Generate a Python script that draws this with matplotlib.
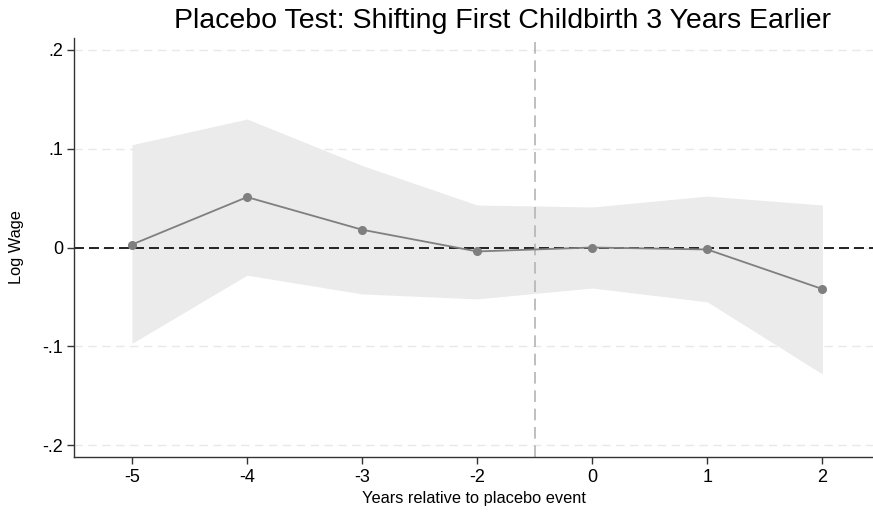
import numpy as np
import matplotlib
matplotlib.use('Agg')
import matplotlib.pyplot as plt

# Event-time categories and estimates
years = ['-5', '-4', '-3', '-2', '0', '1', '2']
coef = [0.003, 0.051, 0.018, -0.004, 0.000, -0.002, -0.042]
ci_upper = [0.104, 0.130, 0.083, 0.043, 0.041, 0.052, 0.043]
ci_lower = [-0.097, -0.028, -0.047, -0.052, -0.041, -0.055, -0.128]
yticks = [-0.2, -0.1, 0.0, 0.1, 0.2]
ytick_labels = ['-.2', '-.1', '0', '.1', '.2']

plt.rcParams['font.family'] = ['Liberation Sans', 'DejaVu Sans']

fig = plt.figure(figsize=(8.73, 5.14), dpi=100)
ax = fig.add_axes([74 / 873, 1 - 457 / 514, (873 - 74) / 873, (457 - 38) / 514])

x = np.arange(len(years))

# grid lines
for yt in yticks:
    ax.axhline(yt, color='#e8e8e8', lw=1, ls=(0, (6, 4)), zorder=0)

ax.fill_between(x, ci_lower, ci_upper, color='#ebebeb', lw=0, zorder=1)
ax.axhline(0, color='black', lw=1.2, ls=(0, (6, 3)), zorder=2)
ax.axvline(3.5, color='#b4b4b4', lw=1.2, ls=(0, (7, 4)), zorder=2)
ax.plot(x, coef, color='#7f7f7f', lw=1.3, marker='o', ms=5.5, zorder=3)

ax.set_xlim(-0.504, 6.44)
ax.set_ylim(-0.212, 0.212)
ax.set_xticks(x)
ax.set_xticklabels(years, fontsize=13)
ax.set_yticks(yticks)
ax.set_yticklabels(ytick_labels, fontsize=13)
ax.tick_params(direction='out', length=5, width=1, color='#333333')
ax.tick_params(axis='x', pad=3.5)
ax.tick_params(axis='y', pad=3)

for side in ['top', 'right']:
    ax.spines[side].set_visible(False)
for side in ['left', 'bottom']:
    ax.spines[side].set_color('#333333')
    ax.spines[side].set_linewidth(1)

ax.set_xlabel('Years relative to placebo event', fontsize=11.8, labelpad=3.5)
ax.set_ylabel('Log Wage', fontsize=11.8, labelpad=13)

# title sits a bit right of the axes centre in the reference
fig.text(503 / 873, 1 - 21.5 / 514, 'Placebo Test: Shifting First Childbirth 3 Years Earlier',
         fontsize=20.5, ha='center', va='center')

fig.savefig('out.png', dpi=100)
